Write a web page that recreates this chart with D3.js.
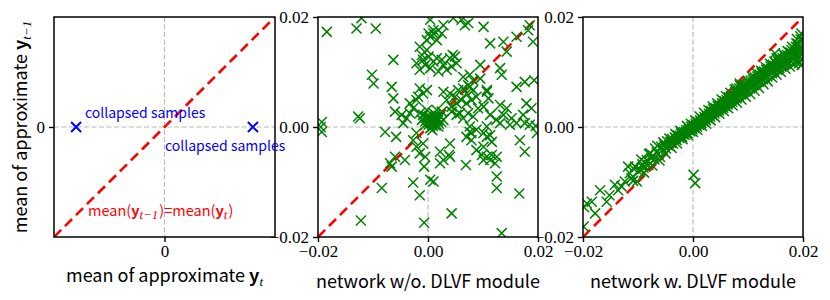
<!DOCTYPE html>
<html>
<head>
<meta charset="utf-8">
<script src="https://cdn.jsdelivr.net/npm/d3@7"></script>
<style>
  body { margin: 0; background: #fff; }
  .tick text { font-family: 'Liberation Serif', serif; font-size: 17px; fill: #000; }
  .tick line { stroke: #000; stroke-width: 1.4; }
  .lbl { font-family: 'Noto Sans CJK KR', 'Noto Sans', sans-serif; font-size: 18px; fill: #000; }
</style>
</head>
<body>
<div id="chart"></div>
<script>
// left panel: schematic, two collapsed samples on the horizontal zero line
var collapsedX = [-0.8, 0.8];
var collapsedY = [0, 0];

// scatter values in units of 1e-3
var withoutDLVF = [
  [-18.4,17.3],[-13.0,17.9],[-9.5,17.9],[-12.1,19.8],[-6.3,12.2],[-10.2,9.5],[-9.9,7.9],[-6.6,7.3],
  [-6.3,5.2],[-6.0,2.8],[-12.7,1.9],[-12.4,1.6],[-19.3,-0.9],[-19.3,0.9],[-19.5,0.0],[-7.8,-0.9],
  [-5.8,-1.8],[-6.9,-6.6],[-6.6,-7.2],[-6.0,-5.4],[-4.2,-6.0],[-8.4,-11.1],[-12.2,-17.0],[-2.7,-10.1],
  [-1.5,-12.4],[-0.7,-17.4],[0.4,-9.6],[1.0,-9.9],[-0.5,-5.4],[-0.7,-7.2],[2.2,-6.6],[2.8,-6.0],
  [3.8,-5.1],[4.3,-15.7],[6.9,-6.9],[9.8,-5.1],[10.7,-5.4],[11.6,-5.1],[12.5,-5.4],[12.2,-6.6],
  [11.3,-6.0],[10.1,-3.6],[12.5,-9.0],[12.5,-11.1],[16.6,-12.1],[17.6,-4.5],[16.7,-2.4],[13.4,-19.3],
  [19.8,-1.1],[19.6,0.2],
  [0.4,19.5],[4.6,19.8],[6.1,19.5],[6.7,18.5],[7.3,18.9],[10.1,18.2],[2.8,18.5],[1.9,17.6],
  [1.0,17.0],[0.4,16.4],[1.6,15.8],[2.5,17.0],
  [-0.2,14.0],[0.1,12.8],[-0.9,12.2],[-1.5,10.4],[-0.5,11.3],[0.4,10.7],[1.0,11.9],[1.6,12.5],
  [2.5,12.2],[1.9,10.1],[2.8,11.3],[4.0,12.5],[4.5,13.1],[4.9,12.8],[5.2,11.6],[3.4,10.4],[4.3,11.0],
  [9.5,11.3],[7.6,9.5],[11.3,15.2],[13.7,15.5],[14.3,13.7],[16.1,16.4],[18.5,18.5],[18.2,17.6],
  [19.1,15.5],[13.1,10.7],[13.4,9.5],[16.1,7.3],[17.6,8.2],[19.3,8.5],[17.9,4.3],[18.8,3.4],
  [7.6,7.3],[8.2,6.7],[8.8,5.5],[7.9,4.9],[7.0,4.3],[10.7,6.7],[11.0,5.2],[10.1,3.7],[9.1,3.4],
  [13.1,4.0],[14.3,3.4],[13.7,2.2],[15.2,1.6],[16.1,0.7],[17.6,0.7],[18.5,0.4],[17.3,2.2],
  [14.9,0.4],[13.1,0.7],[12.4,1.3],[11.3,2.2],[10.7,0.1],
  [7.6,0.1],[7.9,-1.1],[8.8,-0.5],[10.1,-1.1],[11.3,-1.5],[11.6,-2.7],[10.7,-1.8],
  [-1.5,2.5],[-0.9,2.2],[-0.2,1.9],[0.4,1.6],[1.0,1.3],[1.6,1.0],[0.7,0.7],[0.1,0.4],
  [1.3,2.2],[2.2,1.9],[1.9,0.1],[0.4,-0.2],[-0.5,1.0],[-1.1,1.3],[2.8,1.3],[1.0,2.5],
  [-0.2,3.1],[1.6,3.1],[2.5,2.8],[0.7,1.1],[1.2,0.5],[0.2,0.9],[1.5,1.6],[0.9,0.2],
  [0.5,1.4],[1.8,1.2],[0.3,2.0],
  [-3.3,2.5],[-3.9,1.6],[-4.5,0.7],[-2.7,3.4],[-2.1,4.9],[-3.3,4.3],[-4.8,2.2],
  [-1.8,5.5],[-0.9,6.1],[-0.2,6.7],[-1.5,7.0],
  [2.8,6.4],[4.0,6.1],[4.9,5.5],[3.4,4.9],[5.2,4.3],[4.3,3.7],[6.1,4.9],[6.4,7.0],[7.0,6.1],[5.5,6.7],
  [5.8,2.5],[6.4,1.6],[7.3,2.5],[8.2,1.9],[5.2,2.2],[4.3,2.8],
  [7.6,-0.9],[7.0,-1.8],[7.9,-2.4],[8.8,-4.2],[10.1,-6.0],
  [4.0,-3.0],[2.2,-4.5],[4.0,-5.4],
  [-2.1,-1.1],[-2.7,-2.4],[-0.9,-3.0],[-1.5,-4.8],[-2.1,-3.6],
  [6.4,9.1],[8.2,8.5],[7.3,7.6],
  [-1.1,13.1],[-0.2,15.8],[-1.5,14.6],[-2.1,11.6],[0.1,17.0],[1.0,17.6],
  [9.5,8.8],[10.7,6.4],
  [0.6,0.9],[1.4,0.3],[0.0,1.5],[2.0,0.6],[-0.6,0.3],[1.1,1.8],[2.4,0.9],[0.8,-0.6]
];

var withDLVF = [
  [-19.9,-18.1],[-19.8,-14.6],[-19.3,-13.9],[-18.4,-13.6],[-17.8,-15.7],[-16.9,-11.5],[-15.7,-13.6],
  [-15.2,-12.4],[-14.2,-10.5],[-13.6,-11.5],[-13.0,-10.8],[-12.4,-9.9],[-11.5,-8.4],[-11.2,-9.3],
  [-10.8,-7.6],[-10.5,-7.2],[-10.2,-9.9],[-9.9,-8.1],[-9.6,-7.8],[-9.2,-6.8],[-9.0,-7.4],[-8.7,-6.5],
  [-8.4,-6.0],[-8.1,-6.9],[-7.8,-4.8],[-7.6,-5.7],[-7.3,-5.2],[-7.0,-5.9],[-6.9,-3.9],[-6.6,-4.6],
  [-6.3,-4.9],[-6.0,-5.4],[-5.8,-3.6],[-5.5,-4.1],[-5.2,-3.3],[-4.9,-3.9],[-4.7,-2.6],[-4.4,-3.4],
  [-4.1,-2.7],[-3.8,-2.2],[-3.6,-3.0],[-3.3,-1.9],[-3.0,-2.4],[-2.8,-1.5],[-2.5,-2.0],[-2.2,-1.2],
  [-2.0,-1.8],[-1.7,-0.9],[-1.5,-1.4],[-1.2,-0.6],[-1.0,-1.1],[-0.7,-0.3],[-0.5,-0.8],[-0.3,0.1],
  [-0.1,-0.4],[-3.9,-2.9],[-3.1,-2.1],[-2.4,-1.6],[-1.8,-1.3],[-1.3,-0.9],[-0.8,-0.5],[-0.2,-0.1],
  [0.1,0.3],[0.3,-0.2],[0.5,0.6],[0.7,0.1],[0.9,0.9],[1.1,0.4],[1.3,1.2],[1.5,0.7],[1.7,1.5],
  [1.9,1.0],[2.1,1.8],[2.3,1.2],[2.5,2.1],[2.7,1.6],[2.9,2.4],[3.1,1.9],[3.3,2.9],[3.5,2.2],
  [3.7,3.2],[3.9,2.5],[4.1,3.4],[4.3,2.8],[4.5,3.8],[4.7,3.0],[4.9,3.9],[5.1,3.3],[5.3,4.3],
  [5.5,3.5],[5.7,4.7],[5.9,3.8],[6.1,4.9],[6.3,4.1],[6.5,5.4],[6.7,4.4],[6.9,5.6],[7.1,4.6],
  [7.3,5.9],[7.5,4.9],[7.7,6.3],[7.9,5.2],[8.1,6.5],[8.3,5.6],[8.5,7.6],[8.7,5.9],[8.9,6.9],
  [9.1,6.2],[9.3,7.3],[9.5,6.4],[9.7,7.7],[9.9,6.8],[10.1,8.0],[10.3,7.0],[10.5,8.4],[10.7,7.3],
  [10.9,8.6],[11.1,7.6],[11.3,9.0],[11.5,7.9],[11.7,9.2],[11.9,8.2],[12.1,9.5],[12.3,8.4],
  [12.5,9.8],[12.7,8.7],[12.9,10.1],[13.1,9.0],[13.3,10.4],[13.5,9.2],[13.7,10.6],[13.9,9.5],
  [14.1,11.0],[14.3,9.8],[14.5,11.3],[14.7,10.1],[14.9,13.4],[15.2,12.5],[15.1,11.6],[15.3,10.4],
  [15.5,11.9],[15.7,10.7],[15.9,12.2],[16.1,11.0],[16.3,12.5],[16.5,11.3],[16.7,12.8],[16.9,11.6],
  [17.1,13.1],[17.3,11.9],[17.5,13.6],[17.7,12.1],[17.9,14.0],[18.1,12.4],[18.3,14.3],[18.5,12.6],
  [18.7,14.6],[18.9,12.9],[19.1,15.1],[19.3,11.6],[19.5,14.1],[19.7,17.0],[19.8,11.3],[19.9,15.8],
  [19.6,13.2],[19.2,14.5],[18.6,11.9],[17.8,13.5],[8.5,7.9],[7.9,7.0],
  [0.2,0.1],[0.6,0.3],[1.0,0.7],[1.4,0.9],[1.8,1.3],[2.2,1.5],[2.6,1.8],[3.0,2.1],[3.4,2.4],
  [3.8,2.7],[4.2,3.0],[4.6,3.3],[5.0,3.6],[5.4,3.9],[5.8,4.2],[6.2,4.5],[6.6,4.8],[7.0,5.1],
  [7.4,5.4],[7.8,5.6],[8.2,5.9],[8.6,6.2],[9.0,6.5],[9.4,6.8],[9.8,7.1],[10.2,7.4],[10.6,7.8],
  [11.0,8.1],[11.4,8.4],[11.8,8.7],[12.2,9.0],[12.6,9.3],[13.0,9.6],[13.4,9.9],[13.8,10.2],
  [14.2,10.5],[14.6,10.8],[15.0,11.1],[15.4,11.4],[15.8,11.7],[16.2,12.0],[16.6,12.3],[17.0,12.6],
  [17.4,12.9],[17.8,12.7],[18.2,13.2],[18.6,13.6],[19.0,13.9],[19.4,14.0],
  [-11.8,-7.2],[-10.9,-9.8],[-9.4,-5.9],[-8.9,-8.3],[-8.0,-4.9],[-7.4,-7.0],[-6.5,-3.4],[-6.1,-6.1],
  [-5.4,-2.8],[-5.0,-4.8],[-4.3,-2.1],[-3.9,-3.8],[-3.2,-1.3],[-2.9,-3.0],[-2.3,-0.7],[-1.9,-2.2],
  [-1.1,0.2],[-0.9,-1.5],[-0.4,0.6],[0.0,-0.9],
  [0.4,1.2],[0.8,-0.5],[1.2,1.9],[1.6,0.2],[2.0,2.6],[2.4,0.6],[2.8,3.1],[3.2,1.2],[3.6,3.7],
  [4.0,1.8],[4.4,4.3],[4.8,2.4],[5.2,5.0],[5.6,2.9],[6.0,5.6],[6.4,3.4],[6.8,6.2],[7.2,3.9],
  [7.6,6.8],[8.0,4.4],[8.4,7.0],[8.8,5.0],[9.2,7.7],[9.6,5.5],[10.0,8.4],[10.4,6.0],[10.8,9.1],
  [11.2,6.6],[11.6,9.8],[12.0,7.1],[12.4,10.2],[12.8,7.8],[13.2,10.9],[13.6,8.3],[14.0,11.5],
  [14.4,9.0],[14.8,11.9],[15.2,9.5],[15.6,12.6],[16.0,10.0],[16.4,13.3],[16.8,10.6],[17.2,13.8],
  [17.6,11.0],[18.0,14.6],[18.4,11.4],[18.8,15.2],[19.2,11.9],[19.6,15.9],[19.9,12.4],[19.5,16.5],
  [18.9,16.0],
  [0.1,-8.7],[0.4,-10.2]
];

var ticks = [-0.02, 0, 0.02];
var tickLabels = ['\u22120.02', '0.00', '0.02'];
var xTitles = ['network w/o. DLVF module', 'network w. DLVF module'];

var width = 830, height = 300;
var plotTop = 17, plotH = 220;
var panels = [{ left: 54, w: 221 }, { left: 318, w: 220 }, { left: 583, w: 220 }];

var svg = d3.select('#chart').append('svg')
  .attr('width', width)
  .attr('height', height)
  .style('font-family', "'Noto Sans CJK KR', 'Noto Sans', sans-serif");

var defs = svg.append('defs');

function frame(g, p, x, y) {
  defs.append('clipPath').attr('id', 'clip' + p.left)
    .append('rect').attr('x', p.left).attr('y', plotTop).attr('width', p.w).attr('height', plotH);

  // grey zero lines
  g.append('line').attr('x1', x(0)).attr('x2', x(0)).attr('y1', plotTop).attr('y2', plotTop + plotH)
    .attr('stroke', '#b8b8b8').attr('stroke-width', 1.1).attr('stroke-dasharray', '5,2.5');
  g.append('line').attr('x1', p.left).attr('x2', p.left + p.w).attr('y1', y(0)).attr('y2', y(0))
    .attr('stroke', '#b8b8b8').attr('stroke-width', 1.1).attr('stroke-dasharray', '5,2.5');

  // red identity line
  var dom = x.domain();
  g.append('line')
    .attr('clip-path', 'url(#clip' + p.left + ')')
    .attr('x1', x(dom[0])).attr('y1', y(dom[0]))
    .attr('x2', x(dom[1])).attr('y2', y(dom[1]))
    .attr('stroke', '#ff0000').attr('stroke-width', 2.6).attr('stroke-dasharray', '10,5.5');
}

function border(g, p) {
  g.append('rect').attr('x', p.left).attr('y', plotTop).attr('width', p.w).attr('height', plotH)
    .attr('fill', 'none').attr('stroke', '#000').attr('stroke-width', 1.5);
}

function axes(g, x, y, vals, labels) {
  var fmt = function(d){ return labels[vals.indexOf(d)]; };
  var ax = g.append('g').attr('transform', 'translate(0,' + (plotTop + plotH) + ')')
    .call(d3.axisBottom(x).tickValues(vals).tickFormat(fmt).tickSize(5).tickPadding(3).tickSizeOuter(0));
  var ay = g.append('g').attr('transform', 'translate(' + x.range()[0] + ',0)')
    .call(d3.axisLeft(y).tickValues(vals).tickFormat(fmt).tickSize(5).tickPadding(4).tickSizeOuter(0));
  ax.select('.domain').remove();
  ay.select('.domain').remove();
  ax.attr('font-family', null).attr('font-size', null);
  ay.attr('font-family', null).attr('font-size', null);
}

function crosses(g, p, pts, x, y, color, size, sw) {
  g.append('g').attr('clip-path', 'url(#clip' + p.left + ')')
    .selectAll('path').data(pts).enter().append('path')
      .attr('transform', function(d){ return 'translate(' + x(d[0]) + ',' + y(d[1]) + ')'; })
      .attr('d', 'M' + (-size) + ',' + (-size) + 'L' + size + ',' + size +
                 'M' + (-size) + ',' + size + 'L' + size + ',' + (-size))
      .attr('stroke', color).attr('stroke-width', sw).attr('fill', 'none');
}

// helper for "mean of approximate y_t" style labels
function yLabel(text, sub, size) {
  text.append('tspan').text('mean of approximate ');
  text.append('tspan').attr('font-weight', 'bold').text('y');
  text.append('tspan').attr('dy', 4).attr('font-family', "'Liberation Serif', serif")
    .attr('font-style', 'italic').attr('font-size', size).text(sub);
}

// ---- panel 1: schematic ----
(function(){
  var p = panels[0];
  var x = d3.scaleLinear().domain([-1, 1]).range([p.left, p.left + p.w]);
  var y = d3.scaleLinear().domain([-1, 1]).range([plotTop + plotH, plotTop]);
  var g = svg.append('g');
  frame(g, p, x, y);
  crosses(g, p, d3.zip(collapsedX, collapsedY), x, y, '#0000ff', 5, 2);
  axes(g, x, y, [0], ['0']);
  border(g, p);

  g.append('text').attr('x', 85).attr('y', 118).attr('fill', '#0000ff').attr('font-size', 14)
    .text('collapsed samples');
  g.append('text').attr('x', 165).attr('y', 151).attr('fill', '#0000ff').attr('font-size', 14)
    .text('collapsed samples');

  var eq = g.append('text').attr('x', 88).attr('y', 216).attr('fill', '#ff0000').attr('font-size', 14.5);
  eq.append('tspan').text('mean(');
  eq.append('tspan').attr('font-weight', 'bold').text('y');
  eq.append('tspan').attr('dy', 3).attr('font-family', "'Liberation Serif', serif")
    .attr('font-style', 'italic').attr('font-size', 13).text('t\u22121');
  eq.append('tspan').attr('dy', -3).attr('dx', 1).text(')=mean(');
  eq.append('tspan').attr('font-weight', 'bold').text('y');
  eq.append('tspan').attr('dy', 3).attr('font-family', "'Liberation Serif', serif")
    .attr('font-style', 'italic').attr('font-size', 13).text('t');
  eq.append('tspan').attr('dy', -3).attr('dx', 1).text(')');

  var xl = svg.append('text').attr('class', 'lbl').attr('x', x(0)).attr('y', 282)
    .attr('text-anchor', 'middle');
  yLabel(xl, 't', 13);
  var yl = svg.append('text').attr('class', 'lbl').attr('text-anchor', 'middle')
    .attr('transform', 'translate(27,' + y(0) + ') rotate(-90)');
  yLabel(yl, 't\u22121', 13);
})();

// ---- panels 2 and 3: scatter of real samples ----
[withoutDLVF, withDLVF].forEach(function(data, i){
  var p = panels[i + 1];
  var x = d3.scaleLinear().domain([-0.02, 0.02]).range([p.left, p.left + p.w]);
  var y = d3.scaleLinear().domain([-0.02, 0.02]).range([plotTop + plotH, plotTop]);
  var pts = data.map(function(d){ return [d[0] * 1e-3, d[1] * 1e-3]; });
  var g = svg.append('g');
  frame(g, p, x, y);
  crosses(g, p, pts, x, y, '#008000', 5, 1.5);
  axes(g, x, y, ticks, tickLabels);
  border(g, p);

  svg.append('text').attr('class', 'lbl').attr('x', x(0)).attr('y', 288)
    .attr('text-anchor', 'middle').text(xTitles[i]);
});
</script>
</body>
</html>
